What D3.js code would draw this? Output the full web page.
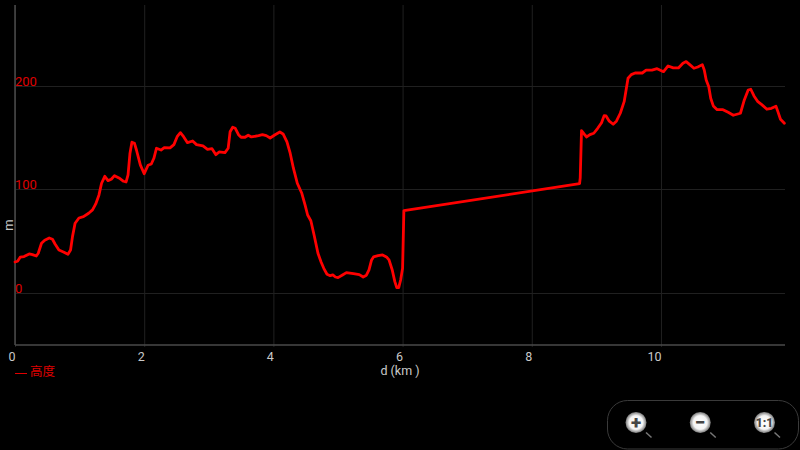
<!DOCTYPE html>
<html><head><meta charset="utf-8">
<style>html,body{margin:0;padding:0;background:#000;overflow:hidden}svg{display:block}
text{font-family:Roboto,"Noto Sans CJK SC",sans-serif;opacity:.99}</style>
<script src="https://cdn.jsdelivr.net/npm/d3@7/dist/d3.min.js"></script></head>
<body><svg id="c" width="800" height="450"></svg>
<script>
const distanceKm=[0,.04,.08,.14,.22,.27,.33,.36,.41,.46,.53,.58,.62,.68,.75,.82,.86,.89,.93,.99,1.06,1.14,1.2,1.25,1.3,1.34,1.39,1.44,1.49,1.54,1.61,1.68,1.72,1.75,1.78,1.81,1.85,1.88,1.94,2,2.06,2.11,2.15,2.19,2.26,2.31,2.4,2.46,2.51,2.56,2.61,2.67,2.75,2.81,2.91,2.98,3.05,3.11,3.16,3.25,3.3,3.33,3.37,3.41,3.46,3.5,3.56,3.61,3.66,3.77,3.83,3.89,3.95,4.02,4.1,4.15,4.21,4.26,4.31,4.37,4.44,4.49,4.53,4.58,4.63,4.69,4.74,4.78,4.83,4.88,4.92,4.96,5,5.07,5.13,5.24,5.33,5.39,5.44,5.48,5.52,5.55,5.62,5.69,5.75,5.79,5.84,5.88,5.91,5.94,5.97,6,6.02,8.74,8.75,8.77,8.81,8.85,8.9,8.96,9.02,9.08,9.12,9.15,9.2,9.26,9.31,9.37,9.43,9.46,9.49,9.54,9.6,9.71,9.77,9.86,9.94,10.04,10.11,10.19,10.27,10.34,10.39,10.45,10.51,10.57,10.64,10.67,10.7,10.74,10.77,10.81,10.87,10.96,11.04,11.12,11.23,11.29,11.35,11.39,11.44,11.5,11.56,11.64,11.71,11.78,11.81,11.85,11.91];
const elevationM=[30.4,31.1,35,35.6,38.2,37.5,36.2,38.8,48.5,51.4,53.6,52.4,47.8,42,40.1,37.9,42,54.9,67.8,72.9,74.2,77.5,80.7,86.5,95.2,106.5,113.2,109,110.3,113.8,111.6,108.4,107.7,114.5,135.5,146.1,145.1,138.6,124.2,115.7,123.9,125.1,130.6,140.3,138.6,140.9,140.6,143.8,151.5,155.4,151.5,145.7,147.3,143.8,142.5,139.3,139.9,134.1,136.7,136,140.3,156.3,160.6,159.6,153.4,150.9,150.9,152.9,151.2,152.5,153.4,152.5,150.2,153.1,156,154.1,146.4,135.5,121,106.5,96.8,85.5,75.8,70.3,56.5,38.8,30.1,24.3,18.6,17.2,17.9,15.9,15.3,17.9,20.1,19.1,18.2,15.9,17.6,22.7,32.4,35.3,36.5,37.2,35.3,32.4,22.7,11.4,5.6,5.6,13,24.3,80,106.1,111.6,157.3,154.1,151.2,153.4,154.8,159.6,165,171.8,171.5,166.4,163.5,166.4,174.1,185.3,196.6,207.9,211.4,213,213,215.7,215.7,217.2,214.3,219.8,217.9,217.9,222.4,224,220.8,217.6,218.8,221.1,215.9,206.3,199.8,188.6,181.2,177.6,177.6,175.1,172.2,174.1,187,196.6,197.3,190.8,185.3,182.4,178,178.9,180.9,175.7,168.3,164.5];
const xTicks=[0,2,4,6,8,10];
const yTicks=[0,100,200];
const xTitle="d (km )", yTitle="m", seriesName="高度";
const zoomLabels=["+","−","1:1"];

const svg=d3.select("#c");
const x=d3.scaleLinear().domain([0,11.92]).range([15,785]);
const y=d3.scaleLinear().domain([-49.8,278.7]).range([345,5]);
const gridCol="#202020", axisCol="#4a4a4a", txt="#cccccc", red="#e00000";

const gx=svg.append("g").attr("transform","translate(0,345)")
  .call(d3.axisBottom(x).tickValues(xTicks).tickSize(-340).tickFormat(d3.format("d")));
gx.select(".domain").remove();
gx.selectAll("line").attr("stroke",gridCol).attr("y2",2).attr("y1",-340);
gx.selectAll("text").attr("fill",txt).attr("font-size",12.5).attr("y",7.5).attr("dy","0.71em").attr("text-anchor","end").attr("x",0);

const gy=svg.append("g").attr("transform","translate(15,0)")
  .call(d3.axisLeft(y).tickValues(yTicks).tickSize(-770).tickFormat(d3.format("d")));
gy.select(".domain").remove();
gy.selectAll(".tick").attr("transform",d=>`translate(0,${Math.round(y(d)-0.5)+0.5})`);
gy.selectAll("line").attr("stroke",gridCol);
gy.selectAll("text").attr("fill",red).attr("font-size",13).attr("text-anchor","start").attr("x",0).attr("dy",0).attr("y",-1);

svg.append("line").attr("x1",15).attr("x2",15).attr("y1",5).attr("y2",345).attr("stroke",axisCol).attr("stroke-width",1.5);
svg.append("line").attr("x1",15).attr("x2",785).attr("y1",345).attr("y2",345).attr("stroke",axisCol).attr("stroke-width",1.5);

svg.append("path").datum(d3.zip(distanceKm,elevationM))
  .attr("d",d3.line().x(d=>x(d[0])).y(d=>y(d[1])))
  .attr("fill","none").attr("stroke","#ff0000").attr("stroke-width",2.8)
  .attr("stroke-linejoin","round").attr("stroke-linecap","round");

svg.append("text").text(xTitle).attr("x",400).attr("y",374.5).attr("text-anchor","middle").attr("fill",txt).attr("font-size",12.5);
svg.append("text").text(yTitle).attr("transform","translate(13,225) rotate(-90)").attr("text-anchor","middle").attr("fill",txt).attr("font-size",13);

svg.append("line").attr("x1",15).attr("x2",27).attr("y1",373.5).attr("y2",373.5).attr("stroke",red).attr("stroke-width",1);
svg.append("text").text(seriesName).attr("x",30).attr("y",375.5).attr("fill",red).attr("font-size",12.5);

svg.append("rect").attr("x",607.5).attr("y",400.5).attr("width",191).attr("height",48.5).attr("rx",20).attr("fill","none").attr("stroke","#3a3a3a");
const grad=svg.append("defs").append("radialGradient").attr("id","btn");
grad.append("stop").attr("offset","0%").attr("stop-color","#fff");
grad.append("stop").attr("offset","65%").attr("stop-color","#f4f4f4");
grad.append("stop").attr("offset","100%").attr("stop-color","#777");
const bx=d3.scalePoint().domain(zoomLabels).range([636,764.5]);
const b=svg.selectAll(".b").data(zoomLabels).join("g").attr("class","b").attr("transform",d=>`translate(${bx(d)},422.5)`);
b.append("line").attr("x1",10).attr("y1",10).attr("x2",15.5).attr("y2",15).attr("stroke","#777").attr("stroke-width",1.5);
b.append("circle").attr("r",10.5).attr("fill","url(#btn)");
b.append("text").text(d=>d).attr("text-anchor","middle").attr("dy",d=>d==="1:1"?"0.36em":"0.34em")
  .attr("font-size",d=>d==="1:1"?12:19).attr("font-weight",900).attr("fill","#444");
</script></body></html>
